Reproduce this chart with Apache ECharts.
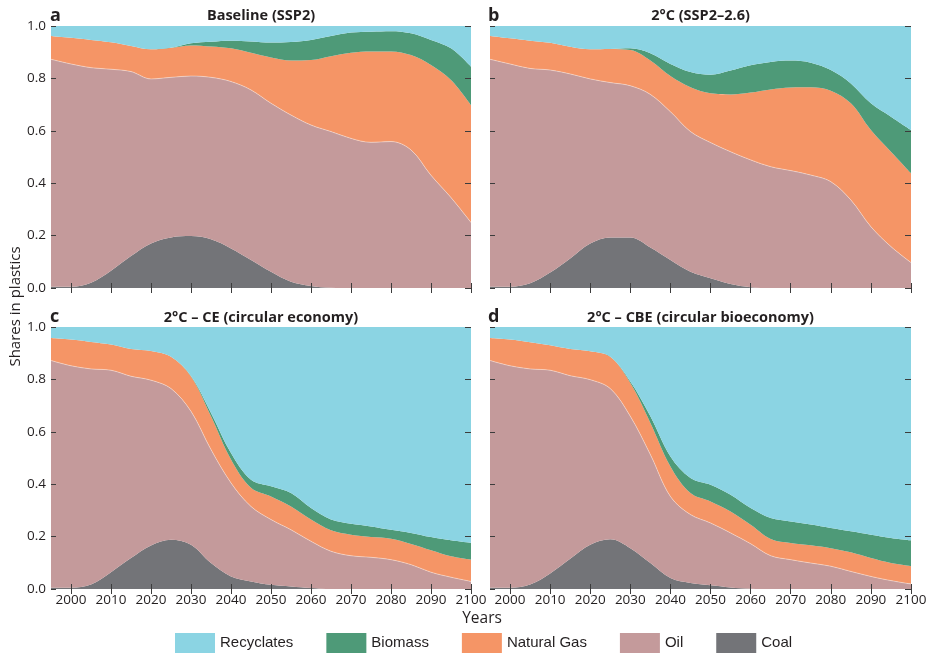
<!DOCTYPE html>
<html>
<head>
<meta charset="utf-8">
<script src="https://cdn.jsdelivr.net/npm/echarts@6/dist/echarts.min.js"></script>
<style>
  html, body { margin: 0; padding: 0; background: #fff; }
  #chart { width: 932px; height: 655px; }
</style>
</head>
<body>
<div id="chart"></div>
<script>
const years = [1995,2000,2005,2010,2015,2020,2025,2030,2035,2040,2045,2050,2055,2060,2065,2070,2075,2080,2085,2090,2095,2100];
const tickYears = [2000,2010,2020,2030,2040,2050,2060,2070,2080,2090,2100];

const seriesNames = ['Coal', 'Oil', 'Natural Gas', 'Biomass', 'Recyclates'];
const legendOrder = ['Recyclates', 'Biomass', 'Natural Gas', 'Oil', 'Coal'];
const panelTitles = ['Baseline (SSP2)', '2°C (SSP2–2.6)', '2°C – CE (circular economy)', '2°C – CBE (circular bioeconomy)'];
const panelLetters = ['a', 'b', 'c', 'd'];

// Panel a: Baseline (SSP2)
const coalA = [0.005,0.005,0.020,0.066,0.122,0.170,0.193,0.198,0.186,0.151,0.107,0.062,0.024,0.008,0.001,0,0,0,0,0,0,0];
const oilA  = [0.868,0.850,0.821,0.769,0.704,0.628,0.611,0.611,0.618,0.637,0.649,0.643,0.636,0.614,0.596,0.571,0.556,0.559,0.527,0.430,0.345,0.250];
const gasA  = [0.089,0.100,0.106,0.103,0.098,0.113,0.113,0.117,0.118,0.127,0.142,0.175,0.208,0.248,0.288,0.327,0.347,0.344,0.362,0.421,0.449,0.448];
const bioA  = [0,0,0,0,0,0,0,0.008,0.018,0.029,0.043,0.057,0.071,0.077,0.077,0.077,0.075,0.077,0.083,0.096,0.121,0.147];
const recA  = [0.038,0.045,0.053,0.062,0.076,0.089,0.083,0.066,0.060,0.056,0.059,0.063,0.061,0.053,0.038,0.025,0.022,0.020,0.028,0.053,0.085,0.155];

// Panel b: 2°C (SSP2-2.6)
const coalB = [0.005,0.005,0.018,0.059,0.113,0.170,0.193,0.193,0.155,0.107,0.062,0.037,0.015,0.003,0,0,0,0,0,0,0,0];
const oilB  = [0.868,0.850,0.820,0.773,0.704,0.628,0.591,0.579,0.584,0.566,0.535,0.518,0.505,0.486,0.463,0.448,0.431,0.406,0.336,0.234,0.158,0.097];
const gasB  = [0.089,0.098,0.106,0.104,0.104,0.113,0.128,0.136,0.129,0.136,0.169,0.188,0.219,0.257,0.295,0.317,0.335,0.347,0.369,0.369,0.362,0.341];
const bioB  = [0,0,0,0,0,0,0,0.007,0.028,0.046,0.058,0.071,0.091,0.104,0.105,0.103,0.094,0.079,0.076,0.102,0.134,0.165];
const recB  = [0.038,0.047,0.056,0.064,0.079,0.089,0.088,0.085,0.104,0.145,0.176,0.186,0.170,0.150,0.137,0.132,0.140,0.168,0.219,0.295,0.346,0.397];

// Panel c: 2°C - CE (circular economy)
const coalC = [0.005,0.005,0.017,0.064,0.118,0.166,0.188,0.169,0.099,0.048,0.029,0.016,0.010,0.004,0,0,0,0,0,0,0,0];
const oilC  = [0.867,0.847,0.823,0.771,0.694,0.631,0.577,0.509,0.433,0.357,0.286,0.249,0.216,0.178,0.144,0.127,0.121,0.112,0.093,0.064,0.045,0.029];
const gasC  = [0.086,0.100,0.103,0.098,0.104,0.111,0.121,0.133,0.127,0.089,0.071,0.088,0.089,0.083,0.080,0.080,0.077,0.080,0.079,0.084,0.080,0.083];
const bioC  = [0,0,0,0,0,0,0,0.002,0.013,0.025,0.031,0.039,0.051,0.044,0.041,0.042,0.041,0.034,0.042,0.050,0.061,0.064];
const recC  = [0.042,0.048,0.057,0.067,0.084,0.092,0.114,0.187,0.328,0.481,0.583,0.608,0.634,0.691,0.735,0.751,0.761,0.774,0.786,0.802,0.814,0.824];

// Panel d: 2°C - CBE (circular bioeconomy)
const coalD = [0.005,0.005,0.017,0.059,0.115,0.169,0.190,0.156,0.099,0.042,0.023,0.014,0.006,0.001,0,0,0,0,0,0,0,0];
const oilD  = [0.867,0.847,0.823,0.776,0.699,0.630,0.575,0.503,0.414,0.311,0.261,0.238,0.208,0.172,0.127,0.112,0.099,0.087,0.067,0.048,0.032,0.019];
const gasD  = [0.086,0.100,0.102,0.095,0.102,0.108,0.121,0.127,0.121,0.115,0.082,0.082,0.082,0.072,0.064,0.064,0.068,0.069,0.073,0.070,0.067,0.068];
const bioD  = [0,0,0,0,0,0,0,0.006,0.025,0.038,0.058,0.064,0.064,0.064,0.080,0.082,0.079,0.077,0.080,0.089,0.096,0.099];
const recD  = [0.042,0.048,0.058,0.070,0.084,0.093,0.114,0.208,0.341,0.494,0.576,0.602,0.640,0.691,0.729,0.742,0.754,0.767,0.780,0.793,0.805,0.814];

const panels = [
  [coalA, oilA, gasA, bioA, recA],
  [coalB, oilB, gasB, bioB, recB],
  [coalC, oilC, gasC, bioC, recC],
  [coalD, oilD, gasD, bioD, recD]
];

const colors = {
  'Coal': '#737478',
  'Oil': '#c49a9b',
  'Natural Gas': '#f59566',
  'Biomass': '#4e9a78',
  'Recyclates': '#8bd4e3'
};

const grids = [
  { left: 51, top: 26, width: 420, height: 262 },
  { left: 490, top: 26, width: 421, height: 262 },
  { left: 51, top: 327, width: 420, height: 262 },
  { left: 490, top: 327, width: 421, height: 262 }
];

const tickColor = '#3c3c3c';
const textColor = '#231f20';
const axisFont = '"Open Sans", "DejaVu Sans", sans-serif';
const isTickYear = (idx) => tickYears.indexOf(years[idx]) >= 0;
const yearLabels = years.map(String);

const xAxes = [], yAxes = [], series = [];
grids.forEach((g, i) => {
  const showX = i >= 2;
  const showY = i % 2 === 0;
  xAxes.push({
    type: 'category', gridIndex: i, data: yearLabels, boundaryGap: false, position: 'bottom', z: 10,
    axisLine: { show: false }, splitLine: { show: false },
    axisTick: { show: true, inside: true, length: 5, interval: isTickYear, lineStyle: { color: tickColor, width: 1 } },
    axisLabel: { show: showX, interval: isTickYear, margin: 4, color: textColor, fontFamily: axisFont, fontSize: 13.5 }
  });
  xAxes.push({
    type: 'category', gridIndex: i, data: yearLabels, boundaryGap: false, position: 'top', z: 10,
    axisLine: { show: false }, splitLine: { show: false },
    axisTick: { show: true, inside: true, length: 5, interval: isTickYear, lineStyle: { color: tickColor, width: 1 } },
    axisLabel: { show: false }
  });
  yAxes.push({
    type: 'value', gridIndex: i, min: 0, max: 1, interval: 0.2, position: 'left', z: 10,
    axisLine: { show: false }, splitLine: { show: false },
    axisTick: { show: true, inside: true, length: 5, lineStyle: { color: tickColor, width: 1 } },
    axisLabel: { show: showY, margin: 5, color: textColor, fontFamily: axisFont, fontSize: 13.5, formatter: v => v.toFixed(1) }
  });
  yAxes.push({
    type: 'value', gridIndex: i, min: 0, max: 1, interval: 0.2, position: 'right', z: 10,
    axisLine: { show: false }, splitLine: { show: false },
    axisTick: { show: true, inside: true, length: 6, lineStyle: { color: tickColor, width: 1 } },
    axisLabel: { show: false }
  });
  panels[i].forEach((vals, k) => {
    const name = seriesNames[k];
    series.push({
      name: name,
      type: 'line',
      xAxisIndex: 2 * i,
      yAxisIndex: 2 * i,
      stack: 'panel' + i,
      stackStrategy: 'all',
      smooth: 0.35,
      showSymbol: false,
      symbol: 'none',
      lineStyle: name === 'Oil'
        ? { width: 0.7, color: 'rgba(255,255,255,0.55)' }
        : { width: 0, color: colors[name] },
      areaStyle: { color: colors[name], opacity: 1 },
      itemStyle: { color: colors[name] },
      data: vals.slice()
    });
  });
});

const graphics = [];
const titleCenters = [[261, 16], [700.5, 16], [261, 317.5], [700.5, 317.5]];
const letterPos = [[50, 15.5], [488, 15.5], [50, 316.5], [488, 316.5]];
panelTitles.forEach((t, i) => {
  graphics.push({
    type: 'text', x: titleCenters[i][0], y: titleCenters[i][1], z: 20,
    style: { text: t, align: 'center', verticalAlign: 'middle', fill: textColor,
             font: 'bold 14.5px "Open Sans", "DejaVu Sans", sans-serif' }
  });
  graphics.push({
    type: 'text', x: letterPos[i][0], y: letterPos[i][1], z: 20,
    style: { text: panelLetters[i], align: 'left', verticalAlign: 'middle', fill: textColor,
             font: 'bold 18px "Open Sans", "DejaVu Sans", sans-serif' }
  });
});
graphics.push({
  type: 'text', x: 15.5, y: 306.5, rotation: Math.PI / 2, z: 20,
  style: { text: 'Shares in plastics', align: 'center', verticalAlign: 'middle', fill: textColor,
           font: '15px "Open Sans", "DejaVu Sans", sans-serif' }
});
graphics.push({
  type: 'text', x: 482, y: 619, z: 20,
  style: { text: 'Years', align: 'center', verticalAlign: 'middle', fill: textColor,
           font: '15.5px "Open Sans", "DejaVu Sans", sans-serif' }
});

const chart = echarts.init(document.getElementById('chart'), null, { renderer: 'canvas' });
chart.setOption({
  animation: false,
  backgroundColor: '#ffffff',
  grid: grids,
  xAxis: xAxes,
  yAxis: yAxes,
  legend: {
    data: legendOrder,
    left: 170, top: 628,
    icon: 'rect',
    itemWidth: 40, itemHeight: 20, itemGap: 33,
    selectedMode: false,
    textStyle: { fontFamily: '"Liberation Sans", Arial, sans-serif', fontSize: 15, color: textColor }
  },
  graphic: graphics,
  series: series
});
</script>
</body>
</html>
